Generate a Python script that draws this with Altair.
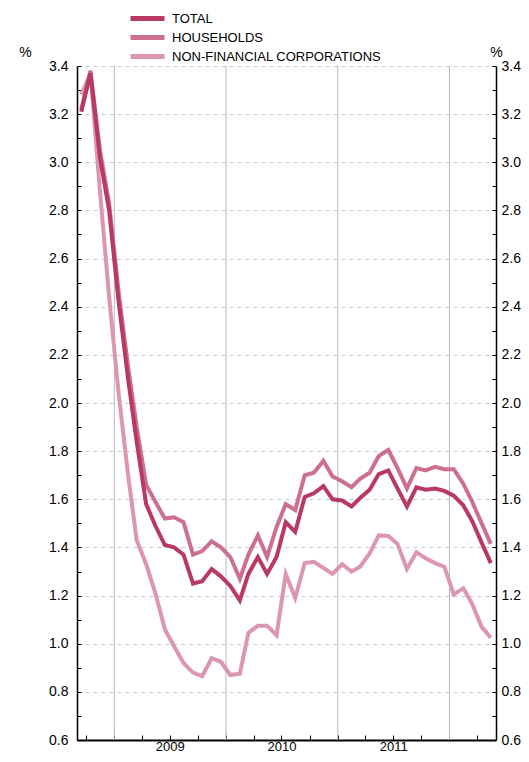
import altair as alt
import pandas as pd

FONT = "Liberation Sans"

# Monthly observations, Sep 2008 .. May 2012
months = []
y, m = 2008, 9
for _ in range(45):
    months.append(f"{y}-{m:02d}-15T00:00:00")
    m += 1
    if m > 12:
        m = 1
        y += 1

total = [3.21, 3.37, 3.02, 2.80, 2.42, 2.10, 1.84, 1.58, 1.49, 1.41, 1.40, 1.37,
         1.25, 1.26, 1.31, 1.28, 1.24, 1.18, 1.29, 1.36, 1.29, 1.36, 1.505, 1.465,
         1.61, 1.625, 1.655, 1.60, 1.595, 1.57, 1.605, 1.64, 1.705, 1.72, 1.645, 1.57,
         1.65, 1.64, 1.645, 1.635, 1.615, 1.575, 1.51, 1.42, 1.335]
households = [3.22, 3.38, 3.05, 2.83, 2.46, 2.15, 1.90, 1.66, 1.59, 1.52, 1.525, 1.505,
              1.37, 1.385, 1.425, 1.40, 1.36, 1.27, 1.37, 1.45, 1.36, 1.485, 1.58, 1.555,
              1.70, 1.71, 1.76, 1.695, 1.675, 1.65, 1.685, 1.71, 1.78, 1.805, 1.73, 1.645,
              1.73, 1.72, 1.735, 1.725, 1.725, 1.665, 1.59, 1.50, 1.415]
nfc = [3.28, 3.37, 2.88, 2.44, 2.04, 1.70, 1.43, 1.33, 1.21, 1.06, 0.99, 0.92,
       0.88, 0.865, 0.94, 0.925, 0.87, 0.875, 1.045, 1.075, 1.075, 1.035, 1.29, 1.19,
       1.335, 1.34, 1.315, 1.29, 1.33, 1.30, 1.32, 1.375, 1.45, 1.448, 1.415, 1.31,
       1.38, 1.355, 1.335, 1.32, 1.205, 1.23, 1.165, 1.07, 1.025]

series_names = ["TOTAL", "HOUSEHOLDS", "NON-FINANCIAL CORPORATIONS"]
colors = ["#b73964", "#cc708e", "#dc97ad"]

year_starts = ["2009-01-01T00:00:00", "2010-01-01T00:00:00",
               "2011-01-01T00:00:00", "2012-01-01T00:00:00"]
year_labels = [2009, 2010, 2011]
quarter_ticks = [(2008, 10), (2009, 1), (2009, 4), (2009, 7), (2009, 10),
                 (2010, 1), (2010, 4), (2010, 7), (2010, 10), (2011, 1),
                 (2011, 4), (2011, 7), (2011, 10), (2012, 1), (2012, 4)]
y_major = [0.6, 0.8, 1.0, 1.2, 1.4, 1.6, 1.8, 2.0, 2.2, 2.4, 2.6, 2.8, 3.0, 3.2, 3.4]
y_minor = [0.6, 0.7, 0.8, 0.9, 1.0, 1.1, 1.2, 1.3, 1.4, 1.5, 1.6, 1.7, 1.8, 1.9, 2.0,
           2.1, 2.2, 2.3, 2.4, 2.5, 2.6, 2.7, 2.8, 2.9, 3.0, 3.1, 3.2, 3.3, 3.4]

def frame(name, vals):
    return pd.DataFrame({"date": months, "value": vals, "series": name})

df_total = frame("TOTAL", total)
df_hh = frame("HOUSEHOLDS", households)
df_nfc = frame("NON-FINANCIAL CORPORATIONS", nfc)
df_years = pd.DataFrame({"date": year_starts})

xscale = alt.Scale(domain=[alt.DateTime(year=2008, month=9, date=1),
                           alt.DateTime(year=2012, month=6, date=1)])
yscale = alt.Scale(domain=[0.6, 3.4], nice=False, zero=False)

color_enc = alt.Color(
    "series:N",
    scale=alt.Scale(domain=series_names, range=colors),
    legend=alt.Legend(
        title=None, orient="none", legendX=51, legendY=-57, direction="vertical",
        symbolType="stroke", symbolSize=1156, symbolStrokeWidth=5,
        labelFontSize=13, labelFont=FONT, labelColor="black", labelOffset=5,
        labelLimit=400, clipHeight=19, rowPadding=0, padding=0,
    ),
)

grid = alt.Chart(df_years).mark_rule(color="#b8b8b8", strokeWidth=1).encode(
    x=alt.X("date:T", scale=xscale, axis=None)
)

nfc_line = alt.Chart(df_nfc).mark_line(strokeWidth=4).encode(
    x=alt.X("date:T", scale=xscale, axis=alt.Axis(
        orient="bottom", values=[alt.DateTime(year=yy, month=7, date=1) for yy in year_labels],
        format="%Y", ticks=False, labelPadding=0, labelFontSize=13, labelFont=FONT,
        labelColor="black", domain=True, domainColor="black", domainWidth=2,
        grid=False, title=None)),
    y=alt.Y("value:Q", scale=yscale, axis=alt.Axis(
        orient="left", values=y_major, format=".1f", ticks=False, labelPadding=9,
        labelFontSize=14, labelFont=FONT, labelColor="black",
        domain=True, domainColor="black", domainWidth=1.5,
        grid=True, gridColor="#c8c8c8", gridDash=[4, 4], gridWidth=1,
        title="%", titleAngle=0, titleX=-52, titleY=-10, titleFontSize=14,
        titleFont=FONT, titleFontWeight="normal", titleColor="black",
        titleAlign="center", titleBaseline="alphabetic")),
    color=color_enc,
)

hh_line = alt.Chart(df_hh).mark_line(strokeWidth=4).encode(
    x=alt.X("date:T", scale=xscale, axis=alt.Axis(
        orient="bottom", values=[alt.DateTime(year=a, month=b, date=1) for a, b in quarter_ticks],
        labels=False, domain=False, ticks=True, tickSize=5, offset=-5,
        tickColor="black", tickWidth=1, grid=False, title=None)),
    y=alt.Y("value:Q", scale=yscale, axis=alt.Axis(
        orient="left", values=y_minor, labels=False, domain=False, ticks=True,
        tickSize=4, offset=-4, tickColor="black", tickWidth=1, grid=False, title=None)),
    color=color_enc,
)

total_line = alt.Chart(df_total).mark_line(strokeWidth=4).encode(
    x=alt.X("date:T", scale=xscale, axis=None),
    y=alt.Y("value:Q", scale=yscale, axis=alt.Axis(
        orient="right", values=y_major, format=".1f", ticks=False, labelPadding=5,
        labelFontSize=14, labelFont=FONT, labelColor="black",
        domain=True, domainColor="black", domainWidth=1.5, grid=False,
        title="%", titleAngle=0, titleX=0, titleY=-10, titleFontSize=14,
        titleFont=FONT, titleFontWeight="normal", titleColor="black",
        titleAlign="center", titleBaseline="alphabetic")),
    color=color_enc,
)

right_ticks = alt.Chart(df_total).mark_line(opacity=0).encode(
    x=alt.X("date:T", scale=xscale, axis=None),
    y=alt.Y("value:Q", scale=yscale, axis=alt.Axis(
        orient="right", values=y_minor, labels=False, domain=False, ticks=True,
        tickSize=4, offset=-4, tickColor="black", tickWidth=1, grid=False, title=None)),
)

chart = alt.layer(grid, nfc_line, hh_line, total_line, right_ticks).resolve_axis(
    x="independent", y="independent"
).properties(
    width=419, height=674,
    autosize=alt.AutoSizeParams(type="none"),
    padding={"left": 69, "top": 58, "right": 25, "bottom": 14},
).configure_view(stroke=None)

chart.save("out.html", embed_options={"renderer": "svg", "actions": False})
